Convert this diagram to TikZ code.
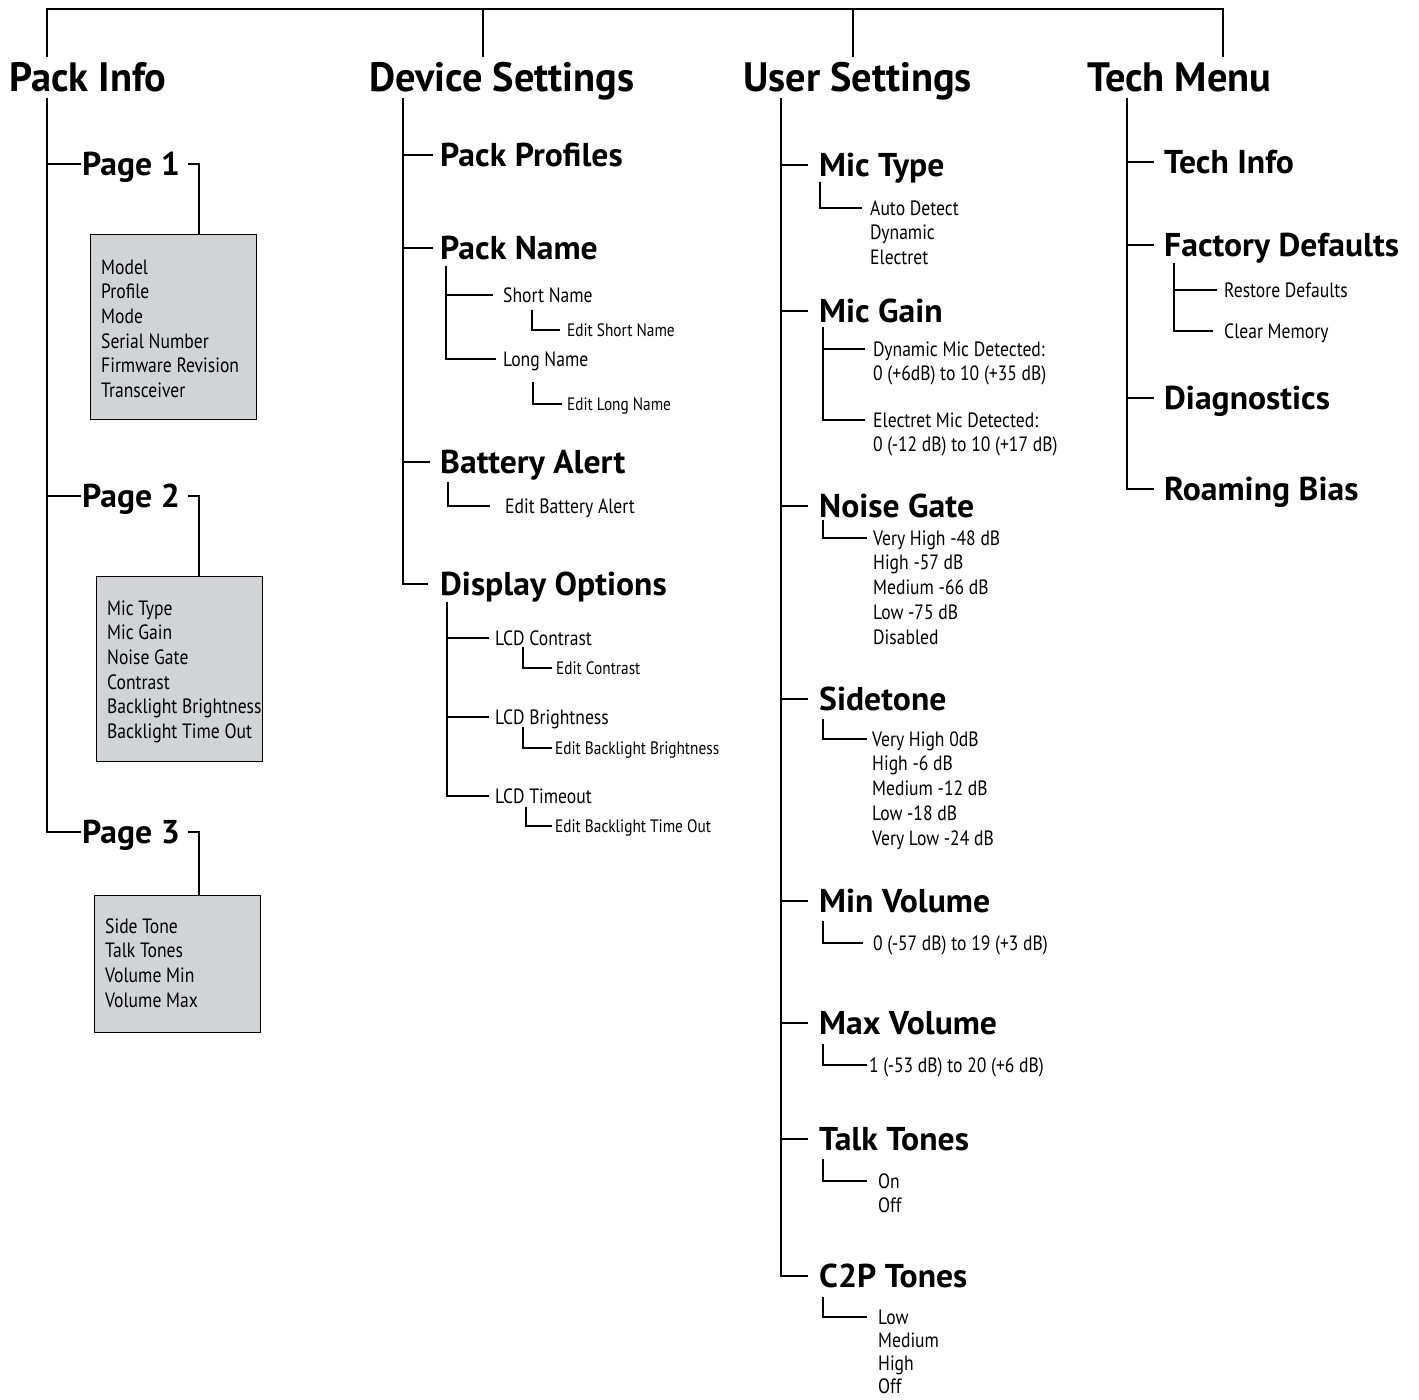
\documentclass[tikz,border=0pt]{standalone}
\usepackage{fontspec}
\setmainfont{PT Sans}
\newfontfamily\headfontA{PT Sans}[FakeStretch=0.985]
\newfontfamily\headfontB{PT Sans}[FakeStretch=1.02]
\newfontfamily\itemfont{PT Sans}[FakeStretch=0.85]
\definecolor{boxgray}{HTML}{D1D3D4}
\begin{document}
\begin{tikzpicture}[x=1pt,y=-1pt,
  conn/.style={draw, line width=1.5pt},
  hA/.style={font=\headfontA\bfseries\fontsize{41}{41}\selectfont, anchor=west, inner sep=0pt, text height=29pt, text depth=0pt},
  hB/.style={font=\headfontB\bfseries\fontsize{33}{33}\selectfont, anchor=west, inner sep=0pt, text height=23pt, text depth=0pt},
  it/.style={font=\itemfont\fontsize{20.7}{20.7}\selectfont, anchor=west, inner sep=0pt, text height=14.5pt, text depth=0pt},
  sm/.style={font=\itemfont\fontsize{18}{18}\selectfont, anchor=west, inner sep=0pt, text height=12.7pt, text depth=0pt},
  infobox/.style={draw, line width=1.4pt, fill=boxgray, anchor=north west, inner sep=0pt}]
\useasboundingbox[fill=white] (0,0) rectangle (1419,1400);

% ---------- top headers ----------
\node[hA] (pi) at (9,77) {Pack Info};
\node[hA] (ds) at (369,77) {Device Settings};
\node[hA] (us) at (743,77) {User Settings};
\node[hA] (tm) at (1087,77) {Tech Menu};

\coordinate (bar1) at (47,9);
\coordinate (bar2) at (483,9);
\coordinate (bar3) at (853,9);
\coordinate (bar4) at (1223,9);
\draw[conn, shorten <=5pt, shorten >=5pt] (bar1 |- pi.north) -- (bar1) -- (bar4) -- (bar4 |- tm.north);
\draw[conn, shorten >=5pt] (bar2) -- (bar2 |- ds.north);
\draw[conn, shorten >=5pt] (bar3) -- (bar3 |- us.north);

% ---------- Pack Info ----------
\node[hB] (p1) at (82,164) {Page 1};
\node[hB] (p2) at (82,496) {Page 2};
\node[hB] (p3) at (82,832) {Page 3};
\coordinate (piT) at (47,98);
\draw[conn, shorten >=1pt] (piT) |- (p3.west);
\draw[conn, shorten >=1pt] (piT |- p1.west) -- (p1.west);
\draw[conn, shorten >=1pt] (piT |- p2.west) -- (p2.west);

\node[infobox, minimum width=166pt, minimum height=185pt] (b1) at (90,234) {};
\node[infobox, minimum width=166pt, minimum height=185pt] (b2) at (96,576) {};
\node[infobox, minimum width=166pt, minimum height=137pt] (b3) at (94,895) {};
\coordinate (b1c) at (199,234);
\coordinate (b2c) at (199,576);
\coordinate (b3c) at (199,895);
\draw[conn, shorten <=8pt] (p1.east) -| (b1c);
\draw[conn, shorten <=8pt] (p2.east) -| (b2c);
\draw[conn, shorten <=8pt] (p3.east) -| (b3c);

\foreach \t [count=\i from 0] in {Model,Profile,Mode,Serial Number,Firmware Revision,Transceiver}
  \node[it] (bA\i) at (101,{267+24.6*\i}) {\t};
\foreach \t [count=\i from 0] in {Mic Type,Mic Gain,Noise Gate,Contrast,Backlight Brightness,Backlight Time Out}
  \node[it] (bB\i) at (107,{608+24.6*\i}) {\t};
\foreach \t [count=\i from 0] in {Side Tone,Talk Tones,Volume Min,Volume Max}
  \node[it] (bC\i) at (105,{926+24.6*\i}) {\t};

% ---------- Device Settings ----------
\node[hB] (pp) at (440,155) {Pack Profiles};
\node[hB] (pn) at (440,248) {Pack Name};
\node[hB] (ba) at (440,462) {Battery Alert};
\node[hB] (do) at (440,584) {Display Options};
\coordinate (dsT) at (403,98);
\draw[conn, shorten >=12pt] (dsT) |- (do.west);
\draw[conn, shorten >=7pt] (dsT |- pp.west) -- (pp.west);
\draw[conn, shorten >=7pt] (dsT |- pn.west) -- (pn.west);
\draw[conn, shorten >=10pt] (dsT |- ba.west) -- (ba.west);

\node[it] (sn) at (503,295) {Short Name};
\node[sm] (esn) at (567,330) {Edit Short Name};
\node[it] (lnn) at (503,359) {Long Name};
\node[sm] (eln) at (567,404) {Edit Long Name};
\coordinate (pnT) at (446,266);
\draw[conn, shorten >=10pt] (pnT) |- (sn.west);
\draw[conn, shorten >=7pt] (pnT) |- (lnn.west);
\coordinate (snC) at (532,310);
\draw[conn, shorten >=7pt] (snC) |- (esn.west);
\coordinate (lnC) at (533,382);
\draw[conn, shorten >=5pt] (lnC) |- (eln.west);

\node[it] (eba) at (505,506) {Edit Battery Alert};
\coordinate (baC) at (448,482);
\draw[conn, shorten >=15pt] (baC) |- (eba.west);

\node[it] (lc) at (495,638) {LCD Contrast};
\node[sm] (ec) at (556,668) {Edit Contrast};
\node[it] (lb) at (495,717) {LCD Brightness};
\node[sm] (eb) at (555,748) {Edit Backlight Brightness};
\node[it] (lt) at (495,796) {LCD Timeout};
\node[sm] (et) at (555,826) {Edit Backlight Time Out};
\coordinate (doT) at (447,602);
\draw[conn, shorten >=6pt] (doT) |- (lt.west);
\draw[conn, shorten >=6pt] (doT |- lc.west) -- (lc.west);
\draw[conn, shorten >=6pt] (doT |- lb.west) -- (lb.west);
\coordinate (lcC) at (523,647);
\coordinate (lbC) at (523,727);
\coordinate (ltC) at (526,807);
\draw[conn, shorten >=4pt] (lcC) |- (ec.west);
\draw[conn, shorten >=3pt] (lbC) |- (eb.west);
\draw[conn, shorten >=3pt] (ltC) |- (et.west);

% ---------- User Settings ----------
\node[hB] (mt) at (819,165) {Mic Type};
\node[hB] (mg) at (819,311) {Mic Gain};
\node[hB] (ng) at (819,506) {Noise Gate};
\node[hB] (st) at (819,699) {Sidetone};
\node[hB] (minv) at (819,901) {Min Volume};
\node[hB] (maxv) at (819,1023) {Max Volume};
\node[hB] (tt) at (819,1139) {Talk Tones};
\node[hB] (c2p) at (819,1276) {C2P Tones};
\coordinate (usT) at (781,98);
\draw[conn, shorten >=11pt] (usT) |- (c2p.west);
\foreach \n in {mt,mg,ng,st,minv,maxv,tt}
  \draw[conn, shorten >=11pt] (usT |- \n.west) -- (\n.west);

\foreach \t [count=\i from 0] in {Auto Detect,Dynamic,Electret}
  \node[it] (mtl\i) at (870,{208+24.5*\i}) {\t};
\coordinate (mtC) at (820,182);
\draw[conn, shorten >=8pt] (mtC) |- (mtl0.west);

\node[it] (dm0) at (873,349) {Dynamic Mic Detected:};
\node[it] (dm1) at (873,373.5) {0 (+6dB) to 10 (+35 dB)};
\node[it] (em0) at (873,420) {Electret Mic Detected:};
\node[it] (em1) at (873,444.5) {0 (-12 dB) to 10 (+17 dB)};
\coordinate (mgT) at (823,327);
\draw[conn, shorten >=8pt] (mgT) |- (em0.west);
\draw[conn, shorten >=8pt] (mgT |- dm0.west) -- (dm0.west);

\foreach \t [count=\i from 0] in {Very High -48 dB,High -57 dB,Medium -66 dB,Low -75 dB,Disabled}
  \node[it] (ngl\i) at (873,{538+24.7*\i}) {\t};
\coordinate (ngC) at (823,520);
\draw[conn, shorten >=6pt] (ngC) |- (ngl0.west);

\foreach \t [count=\i from 0] in {Very High 0dB,High -6 dB,Medium -12 dB,Low -18 dB,Very Low -24 dB}
  \node[it] (stl\i) at (872,{739+24.7*\i}) {\t};
\coordinate (stC) at (823,719);
\draw[conn, shorten >=5pt] (stC) |- (stl0.west);

\node[it] (minl) at (873,943) {0 (-57 dB) to 19 (+3 dB)};
\coordinate (minC) at (823,921);
\draw[conn, shorten >=10pt] (minC) |- (minl.west);

\node[it] (maxl) at (869,1065) {1 (-53 dB) to 20 (+6 dB)};
\coordinate (maxC) at (823,1044);
\draw[conn, shorten >=2pt] (maxC) |- (maxl.west);

\foreach \t [count=\i from 0] in {On,Off}
  \node[it] (ttl\i) at (878,{1181+24*\i}) {\t};
\coordinate (ttC) at (823,1159);
\draw[conn, shorten >=11pt] (ttC) |- (ttl0.west);

\foreach \t [count=\i from 0] in {Low,Medium,High,Off}
  \node[it] (c2l\i) at (878,{1317+23*\i}) {\t};
\coordinate (c2C) at (823,1297);
\draw[conn, shorten >=11pt] (c2C) |- (c2l0.west);

% ---------- Tech Menu ----------
\node[hB] (ti) at (1164,162) {Tech Info};
\node[hB] (fd) at (1164,245) {Factory Defaults};
\node[hB] (dg) at (1164,398) {Diagnostics};
\node[hB] (rb) at (1164,489) {Roaming Bias};
\coordinate (tmT) at (1127,98);
\draw[conn, shorten >=10pt] (tmT) |- (rb.west);
\foreach \n in {ti,fd,dg}
  \draw[conn, shorten >=10pt] (tmT |- \n.west) -- (\n.west);

\node[it] (rd) at (1224,290) {Restore Defaults};
\node[it] (cm) at (1224,331) {Clear Memory};
\coordinate (fdT) at (1174,263);
\draw[conn, shorten >=11pt] (fdT) |- (cm.west);
\draw[conn, shorten >=7pt] (fdT |- rd.west) -- (rd.west);
\end{tikzpicture}
\end{document}
